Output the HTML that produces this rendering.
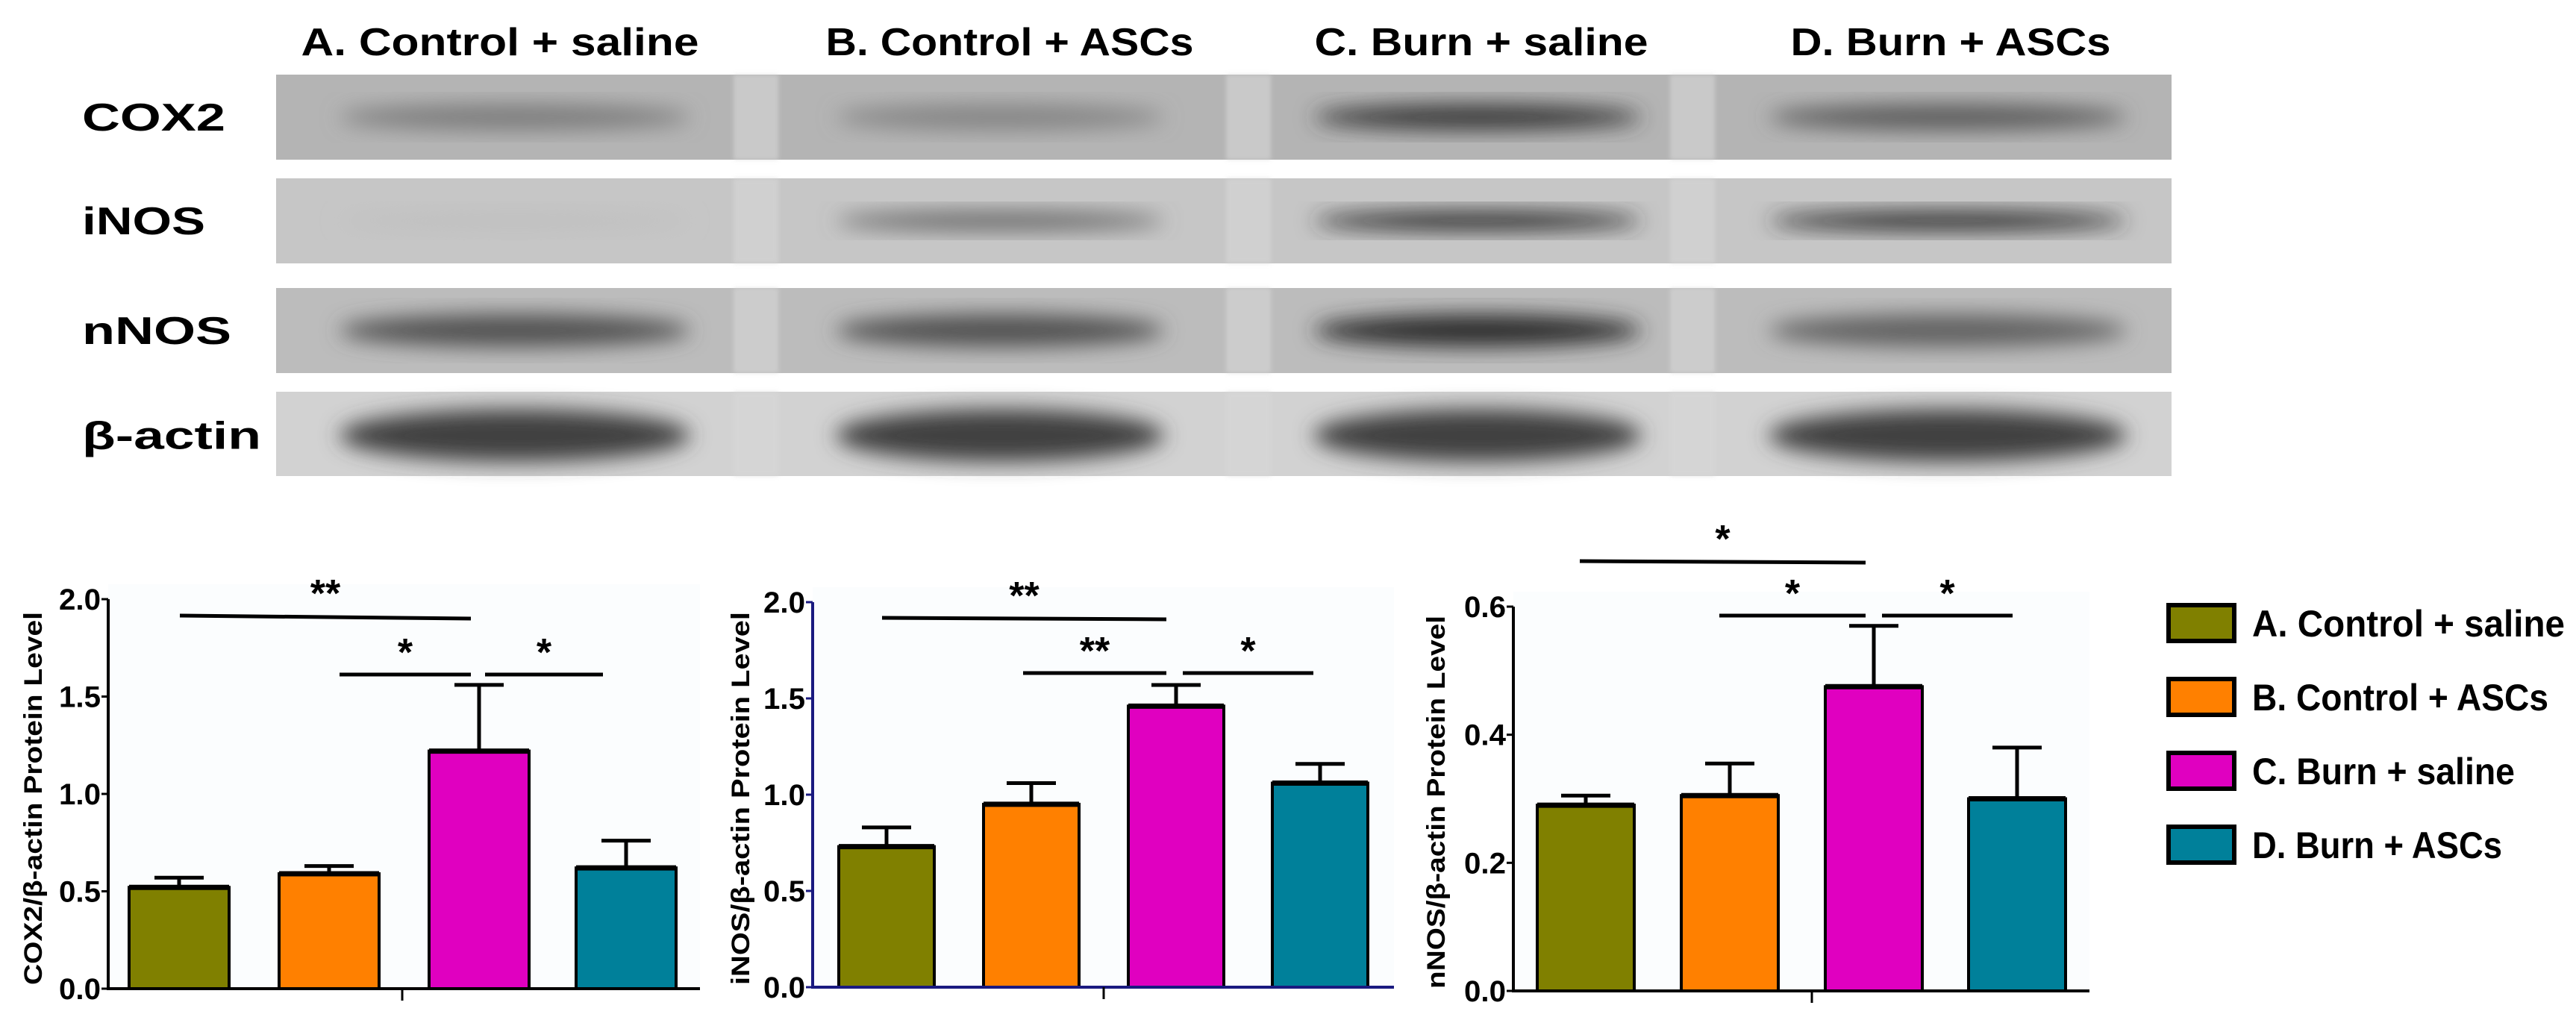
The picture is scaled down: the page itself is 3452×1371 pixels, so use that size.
<!DOCTYPE html>
<html><head><meta charset="utf-8"><style>
body{margin:0;background:#fff;}
svg{display:block;font-family:"Liberation Sans",sans-serif;}
</style></head><body>
<svg id="fig" width="3452" height="1371" viewBox="0 0 3452 1371">
<defs>
<filter id="blur" x="-20%" y="-50%" width="140%" height="200%"><feGaussianBlur stdDeviation="14"/></filter>
<filter id="blur2"><feGaussianBlur stdDeviation="3"/></filter>
</defs>
<g id="blots"></g>
<g id="charts"></g>
<g id="legend"></g>
</svg>
<script>
const groups = ["A. Control + saline","B. Control + ASCs","C. Burn + saline","D. Burn + ASCs"];
const colors = ["#808000","#ff8000","#e000c0","#00809a"];
const proteins = ["COX2","iNOS","nNOS","β-actin"];
// band darkness per protein per lane (0..1)
const bandIntensity = [[0.45,0.4,0.85,0.65],[0.05,0.55,0.9,0.9],[0.7,0.7,0.9,0.6],[0.8,0.8,0.8,0.8]];

const cox2Means = [0.52,0.59,1.22,0.62];
const cox2Err = [0.57,0.63,1.56,0.76];
const inosMeans = [0.73,0.95,1.46,1.06];
const inosErr = [0.83,1.06,1.57,1.16];
const nnosMeans = [0.29,0.305,0.475,0.30];
const nnosErr = [0.305,0.355,0.57,0.38];
const cox2Ticks = ["0.0","0.5","1.0","1.5","2.0"];
const inosTicks = ["0.0","0.5","1.0","1.5","2.0"];
const nnosTicks = ["0.0","0.2","0.4","0.6"];

const NS="http://www.w3.org/2000/svg";
function mk(tag,attrs,parent){const e=document.createElementNS(NS,tag);for(const k in attrs)e.setAttribute(k,attrs[k]);if(parent)parent.appendChild(e);return e;}

// ---- Blots
const blots=document.getElementById('blots');
const strips=[[100,214,"#b4b4b4"],[239,353,"#c6c6c6"],[386,500,"#bcbcbc"],[525,638,"#d2d2d2"]];
const bandCx=[690,1340,1980,2610];
const bandW=[470,440,440,480];
const bandH=[34,26,44,70];
const headerX=[670,1353,1985,2614];
const headerW=[533,493,447,429];
groups.forEach((g,i)=>{
  const t=mk('text',{x:headerX[i],y:74,'text-anchor':'middle','font-size':52,'font-weight':'bold',textLength:headerW[i],lengthAdjust:'spacingAndGlyphs',fill:'#000'},blots);
  t.textContent=g;
  
  
});
strips.forEach((s,r)=>{
  const bg=mk('rect',{x:370,y:s[0],width:2540,height:s[1]-s[0],fill:s[2]},blots);
  
  
  [1013,1673,2268].forEach(gx=>{mk('rect',{x:gx-30,y:s[0],width:60,height:s[1]-s[0],fill:'#d8d8d8',opacity:0.6,filter:'url(#blur2)'},blots);});
  const cy=(s[0]+s[1])/2+ (r===3?2:0);
  bandIntensity[r].forEach((v,i)=>{
    const g=Math.round(200-170*v);
    const b=mk('ellipse',{cx:bandCx[i],cy:cy,rx:bandW[i]/2,ry:bandH[r]/2,fill:`rgb(${g},${g},${g})`,filter:'url(#blur)'},blots);
    
    
  });
  const lab=mk('text',{x:110,y:cy+18,'font-size':52,'font-weight':'bold',textLength:[192,165,200,240][r],lengthAdjust:'spacingAndGlyphs'},blots);
  lab.textContent=proteins[r];
  
  
});

// ---- Charts
const charts=document.getElementById('charts');
function chart(cfg){
  const g=mk('g',{},charts);
  
  
  mk('rect',{x:cfg.ax,y:cfg.y1-20,width:cfg.xEnd-cfg.ax,height:cfg.y0-cfg.y1+20,fill:'#fbfdfe'},g);
  const ys=v=>cfg.y0-(v/cfg.max)*(cfg.y0-cfg.y1);
  cfg.means.forEach((m,i)=>{
    const x=cfg.bx[i];
    const top=ys(m);
    const b=mk('rect',{x:x,y:top,width:cfg.bw,height:cfg.y0-top,fill:colors[i],stroke:'#000','stroke-width':4},g);
    
    
    mk('line',{x1:x,x2:x+cfg.bw,y1:top,y2:top,stroke:'#000','stroke-width':7},g);
    const e=ys(cfg.err[i]);const cx=x+cfg.bw/2;
    const el=mk('path',{d:`M${cx},${top} V${e} M${cx-33},${e} H${cx+33}`,stroke:'#000','stroke-width':5,fill:'none'},g);
    
    
  });
  const ax=mk('path',{d:`M${cfg.ax},${cfg.y1} V${cfg.y0} H${cfg.xEnd}`,stroke:cfg.axisColor,'stroke-width':4,fill:'none'},g);
  
  
  mk('line',{x1:cfg.center,x2:cfg.center,y1:cfg.y0,y2:cfg.y0+16,stroke:'#000','stroke-width':3},g);
  cfg.ticks.forEach(t=>{
    const y=ys(parseFloat(t));
    mk('line',{x1:cfg.ax-9,x2:cfg.ax,y1:y,y2:y,stroke:cfg.axisColor,'stroke-width':3},g);
    const tx=mk('text',{x:cfg.ax-10,y:y+14,'text-anchor':'end','font-size':40,'font-weight':'bold',textLength:56,lengthAdjust:'spacingAndGlyphs'},g);
    tx.textContent=t;
    
    
  });
  const tt=mk('text',{x:0,y:0,'text-anchor':'middle','font-size':34,'font-weight':'bold',textLength:cfg.titleLen,lengthAdjust:'spacingAndGlyphs',transform:`translate(${cfg.titleX},${cfg.titleY}) rotate(-90)`},g);
  tt.textContent=cfg.title;
  
  
  cfg.sig.forEach(s=>{
    const l=mk('line',{x1:s[0],x2:s[1],y1:s[2],y2:s[2]+(s[4]||0),stroke:'#000','stroke-width':5},g);
    
    
    const st=mk('text',{x:(s[0]+s[1])/2,y:s[2]-12,'text-anchor':'middle','font-size':52,'font-weight':'bold'},g);
    st.textContent=s[3];
    
    
  });
}
chart({name:'cox2-chart',means:cox2Means,err:cox2Err,ticks:cox2Ticks,max:2,y0:1325,y1:803,ax:145,xEnd:938,bx:[173,374,575,772],bw:134,center:539,axisColor:'#000',
  title:'COX2/β-actin Protein Level',titleX:56,titleY:1070,titleLen:500,
  sig:[[241,631,825,'**',4],[455,631,904,'*'],[650,808,904,'*']]});
chart({name:'inos-chart',means:inosMeans,err:inosErr,ticks:inosTicks,max:2,y0:1323,y1:807,ax:1089,xEnd:1868,bx:[1124,1318,1512,1705],bw:128,center:1479,axisColor:'#1a1a80',
  title:'iNOS/β-actin Protein Level',titleX:1004,titleY:1070,titleLen:500,
  sig:[[1182,1563,828,'**',2],[1371,1563,902,'**'],[1585,1760,902,'*']]});
chart({name:'nnos-chart',means:nnosMeans,err:nnosErr,ticks:nnosTicks,max:0.6,y0:1328,y1:813,ax:2028,xEnd:2800,bx:[2060,2253,2446,2638],bw:130,center:2428,axisColor:'#000',
  title:'nNOS/β-actin Protein Level',titleX:1936,titleY:1075,titleLen:500,
  sig:[[2117,2500,752,'*',2],[2304,2500,825,'*'],[2522,2697,825,'*']]});

// ---- Legend
const leg=document.getElementById('legend');
const legY=[809,908,1007,1106];
const legLen=[419,397,352,335];
groups.forEach((g,i)=>{
  const r=mk('rect',{x:2906,y:legY[i]+2,width:88,height:48,fill:colors[i],stroke:'#000','stroke-width':6},leg);
  
  
  const t=mk('text',{x:3018,y:legY[i]+44,'font-size':50,'font-weight':'bold',textLength:legLen[i],lengthAdjust:'spacingAndGlyphs'},leg);
  t.textContent=g;
  
  
});
</script>
</body></html>
